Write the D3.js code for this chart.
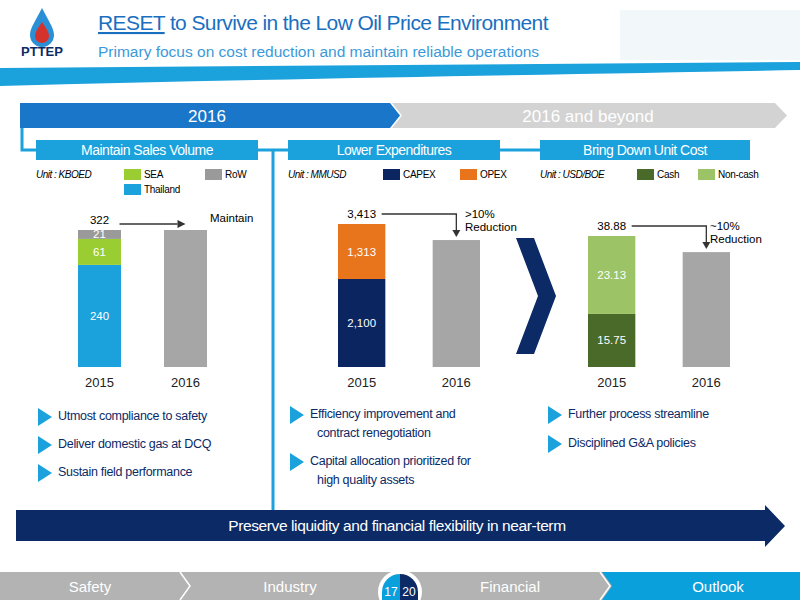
<!DOCTYPE html>
<html><head><meta charset="utf-8">
<script src="https://cdn.jsdelivr.net/npm/d3@7"></script>
<style>body{margin:0;background:#fff}svg{display:block;font-family:"Liberation Sans",Arial,sans-serif}</style>
</head><body><svg width="800" height="600"></svg>
<script>
// data
const years = ["2015", "2016"];
const salesKeys = ["Thailand", "SEA", "RoW"];
const salesValues = [{ Thailand: 240, SEA: 61, RoW: 21 }, { total: 322 }];
const expKeys = ["CAPEX", "OPEX"];
const expValues = [{ CAPEX: 2100, OPEX: 1313 }, { total: 3030 }];
const costKeys = ["Cash", "Non-cash"];
const costValues = [{ Cash: 15.75, "Non-cash": 23.13 }, { total: 34.1 }];
const totalsLabels = ["322", "3,413", "38.88"];

const svg = d3.select("svg");
const BLUE = "#1ba1dc", NAVY = "#0b2a66", TITLE = "#1a6fc0";

// header
const logo = svg.append("g").attr("transform", "translate(42,8)");
logo.append("path").attr("d", "M0,0 C-6,12 -12,20 -12,27 A12,12 0 0 0 12,27 C12,20 6,12 0,0Z").attr("fill", "#2b8fd6");
logo.append("path").attr("d", "M0,14 C-4,20 -7,24 -7,28 A7,7 0 0 0 7,28 C7,24 4,20 0,14Z").attr("fill", "#d6322c");
svg.append("text").attr("x", 42).attr("y", 56).attr("text-anchor", "middle").attr("font-size", 13)
  .attr("font-weight", "bold").attr("fill", "#0b2a66").text("PTTEP");
svg.append("rect").attr("x", 620).attr("y", 10).attr("width", 180).attr("height", 50).attr("fill", "#f2f7fa");
const title = svg.append("text").attr("x", 98).attr("y", 30).attr("font-size", 21).attr("fill", TITLE).attr("letter-spacing", -0.6);
title.append("tspan").attr("text-decoration", "underline").text("RESET");
title.append("tspan").text(" to Survive in the Low Oil Price Environment");
svg.append("text").attr("x", 98).attr("y", 57).attr("font-size", 15.5).attr("fill", "#3a9ad9").text("Primary focus on cost reduction and maintain reliable operations");
svg.append("path").attr("d", "M0,68 L800,62 L800,70 C600,74 300,78 0,86Z").attr("fill", BLUE);

// timeline
svg.append("path").attr("d", "M20,103 L390,103 L400,115.5 L390,128 L20,128Z").attr("fill", "#1976c8");
svg.append("path").attr("d", "M392,103 L775,103 L787,115.5 L775,128 L392,128 L402,115.5Z").attr("fill", "#d3d3d3");
svg.append("text").attr("x", 207).attr("y", 122).attr("text-anchor", "middle").attr("font-size", 17).attr("fill", "#fff").text("2016");
svg.append("text").attr("x", 588).attr("y", 122).attr("text-anchor", "middle").attr("font-size", 17).attr("fill", "#fff").text("2016 and beyond");
const conn = svg.append("g").attr("stroke", BLUE).attr("stroke-width", 3).attr("fill", "none");
conn.append("path").attr("d", "M22,128 L22,150 L36,150");
conn.append("line").attr("x1", 258).attr("x2", 288).attr("y1", 150).attr("y2", 150);
conn.append("line").attr("x1", 500).attr("x2", 540).attr("y1", 150).attr("y2", 150);
conn.append("line").attr("x1", 273).attr("x2", 273).attr("y1", 150).attr("y2", 512);

const sections = [
  { x: 36, w: 222, t: "Maintain Sales Volume", unit: "Unit : KBOED" },
  { x: 288, w: 212, t: "Lower Expenditures", unit: "Unit : MMUSD" },
  { x: 540, w: 210, t: "Bring Down Unit Cost", unit: "Unit : USD/BOE" }
];
sections.forEach(s => {
  svg.append("rect").attr("x", s.x).attr("y", 140).attr("width", s.w).attr("height", 20).attr("fill", BLUE);
  svg.append("text").attr("x", s.x + s.w / 2).attr("y", 155).attr("text-anchor", "middle").attr("font-size", 14)
    .attr("fill", "#fff").attr("letter-spacing", -0.5).text(s.t);
  svg.append("text").attr("x", s.x).attr("y", 178).attr("font-size", 10).attr("font-style", "italic").attr("letter-spacing", -0.5).text(s.unit);
});

function legend(items) {
  items.forEach(([x, y, c, t]) => {
    svg.append("rect").attr("x", x).attr("y", y - 9).attr("width", 17).attr("height", 11).attr("fill", c);
    svg.append("text").attr("x", x + 20).attr("y", y).attr("font-size", 10).attr("letter-spacing", -0.3).text(t);
  });
}
const salesColor = { Thailand: BLUE, SEA: "#9acd32", RoW: "#9a9a9a" };
const expColor = { CAPEX: "#0b2560", OPEX: "#e8741c" };
const costColor = { Cash: "#4a6a2a", "Non-cash": "#9cc466" };
legend([[124, 178, salesColor.SEA, "SEA"], [205, 178, salesColor.RoW, "RoW"], [124, 193, salesColor.Thailand, "Thailand"],
  [383, 178, expColor.CAPEX, "CAPEX"], [460, 178, expColor.OPEX, "OPEX"],
  [637, 178, costColor.Cash, "Cash"], [698, 178, costColor["Non-cash"], "Non-cash"]]);

const base = 367;
function chart(x0, x1, maxVal, topPx, keys, colors, vals, totalLabel, note) {
  const x = d3.scaleBand().domain(years).range([x0, x1]).paddingInner(0.5).paddingOuter(0);
  const y = d3.scaleLinear().domain([0, maxVal]).range([base, topPx]);
  const g = svg.append("g");
  const stack = d3.stack().keys(keys)([vals[0]]);
  stack.forEach(layer => {
    const d = layer[0];
    g.append("rect").attr("x", x("2015")).attr("width", x.bandwidth()).attr("y", y(d[1])).attr("height", y(d[0]) - y(d[1])).attr("fill", colors[layer.key]);
    const v = vals[0][layer.key];
    g.append("text").attr("x", x("2015") + x.bandwidth() / 2).attr("y", (y(d[0]) + y(d[1])) / 2 + 4).attr("text-anchor", "middle")
      .attr("font-size", 11.5).attr("fill", "#fff").text(d3.format(v >= 1000 ? "," : "")(v));
  });
  g.append("rect").attr("x", x("2016")).attr("width", x.bandwidth()).attr("y", y(vals[1].total)).attr("height", base - y(vals[1].total)).attr("fill", "#a6a6a6");
  years.forEach(yr => g.append("text").attr("x", x(yr) + x.bandwidth() / 2).attr("y", 387).attr("text-anchor", "middle").attr("font-size", 13).attr("fill", "#222").text(yr));
  const total = d3.sum(keys, k => vals[0][k]);
  const cx = x("2015") + x.bandwidth() / 2;
  g.append("text").attr("x", cx).attr("y", y(total) - 6).attr("text-anchor", "middle").attr("font-size", 11.5).text(totalLabel);
  const lx0 = cx + 20, lx1 = x("2016") + x.bandwidth() / 2;
  const ly = y(total) - 10;
  if (note.drop) {
    g.append("path").attr("d", `M${lx0},${ly} L${lx1},${ly} L${lx1},${y(vals[1].total) - 8}`).attr("fill", "none").attr("stroke", "#333").attr("stroke-width", 1.3);
    g.append("path").attr("d", `M${lx1 - 4},${y(vals[1].total) - 10} L${lx1 + 4},${y(vals[1].total) - 10} L${lx1},${y(vals[1].total) - 3}Z`).attr("fill", "#333");
  } else {
    g.append("line").attr("x1", lx0).attr("x2", lx1 - 8).attr("y1", ly + 4).attr("y2", ly + 4).attr("stroke", "#333").attr("stroke-width", 1.3);
    g.append("path").attr("d", `M${lx1 - 8},${ly} L${lx1},${ly + 4} L${lx1 - 8},${ly + 8}Z`).attr("fill", "#333");
  }
  note.lines.forEach((t, i) => g.append("text").attr("x", note.x).attr("y", note.y + i * 13).attr("font-size", 11.5).text(t));
}
chart(78, 207, 322, 230, salesKeys, salesColor, salesValues, totalsLabels[0], { drop: false, lines: ["Maintain"], x: 210, y: 222 });
chart(338, 480, 3413, 224, expKeys, expColor, expValues, totalsLabels[1], { drop: true, lines: [">10%", "Reduction"], x: 465, y: 218 });
chart(588, 730, 38.88, 236, costKeys, costColor, costValues, totalsLabels[2], { drop: true, lines: ["~10%", "Reduction"], x: 710, y: 230 });

// big arrow between charts
svg.append("path").attr("d", "M516,238 L534,238 L556,296 L534,354 L516,354 L538,296Z").attr("fill", NAVY);

// bullets
const bullets = [
  [38, 420, ["Utmost compliance to safety"]], [38, 448, ["Deliver domestic gas at DCQ"]], [38, 476, ["Sustain field performance"]],
  [290, 418, ["Efficiency improvement and", "contract renegotiation"]], [290, 465, ["Capital allocation prioritized for", "high quality assets"]],
  [548, 418, ["Further process streamline"]], [548, 447, ["Disciplined G&A policies"]]
];
bullets.forEach(([x, y, lines]) => {
  svg.append("path").attr("d", `M${x},${y - 12} L${x + 14},${y - 3} L${x},${y + 6}Z`).attr("fill", BLUE);
  lines.forEach((t, i) => svg.append("text").attr("x", x + 20 + (i && x > 280 && x < 300 ? 7 : 0)).attr("y", y + i * 19).attr("font-size", 12.5)
    .attr("fill", "#0b2a66").attr("letter-spacing", -0.3).text(t));
});

// bottom arrow
svg.append("path").attr("d", "M16,510 L765,510 L765,505 L785,526 L765,547 L765,541 L16,541Z").attr("fill", NAVY);
svg.append("text").attr("x", 397).attr("y", 531).attr("text-anchor", "middle").attr("font-size", 15.5).attr("fill", "#fff").attr("letter-spacing", -0.4).text("Preserve liquidity and financial flexibility in near-term");

// footer
svg.append("rect").attr("x", 0).attr("y", 572).attr("width", 800).attr("height", 28).attr("fill", "#b3b3b3");
svg.append("path").attr("d", "M602,572 L800,572 L800,600 L602,600 L612,586Z").attr("fill", "#0aa0dc");
[[180, 572, 190, 586, 180, 600], [600, 572, 610, 586, 600, 600]].forEach(p =>
  svg.append("path").attr("d", `M${p[0]},${p[1]} L${p[2]},${p[3]} L${p[4]},${p[5]}`).attr("fill", "none").attr("stroke", "#fff").attr("stroke-width", 1.5));
[["Safety", 90], ["Industry", 290], ["Financial", 510], ["Outlook", 718]].forEach(([t, x]) =>
  svg.append("text").attr("x", x).attr("y", 592).attr("text-anchor", "middle").attr("font-size", 15).attr("fill", "#fff").text(t));
svg.append("circle").attr("cx", 400).attr("cy", 592).attr("r", 22).attr("fill", "#fff");
svg.append("path").attr("d", "M400,574 A18,18 0 0 0 382,592 L382,600 L400,600Z").attr("fill", "#0aa0dc");
svg.append("path").attr("d", "M400,574 A18,18 0 0 1 418,592 L418,600 L400,600Z").attr("fill", NAVY);
svg.append("text").attr("x", 391).attr("y", 596).attr("text-anchor", "middle").attr("font-size", 12).attr("fill", "#fff").text("17");
svg.append("text").attr("x", 409).attr("y", 596).attr("text-anchor", "middle").attr("font-size", 12).attr("fill", "#fff").text("20");
</script></body></html>
